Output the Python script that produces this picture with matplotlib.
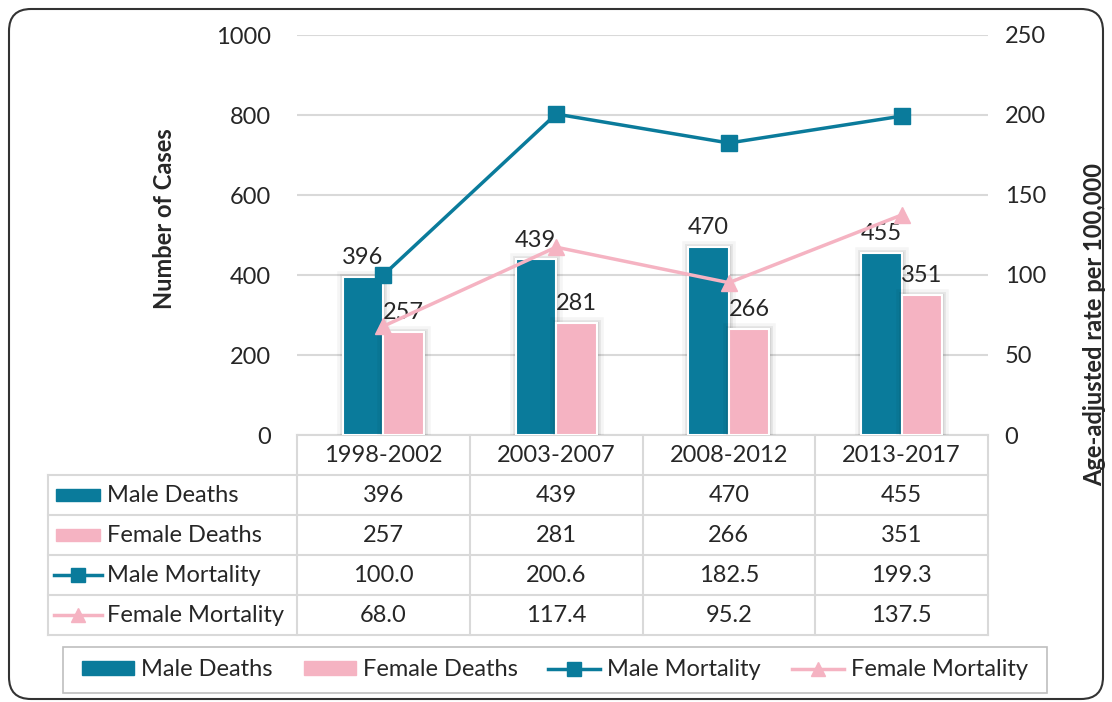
import numpy as np
import matplotlib.pyplot as plt
import matplotlib.patheffects as pe
from matplotlib.patches import Rectangle, FancyBboxPatch
from matplotlib.lines import Line2D

periods = ["1998-2002", "2003-2007", "2008-2012", "2013-2017"]
male_deaths = [396, 439, 470, 455]
female_deaths = [257, 281, 266, 351]
male_mort = [100.0, 200.6, 182.5, 199.3]
female_mort = [68.0, 117.4, 95.2, 137.5]
series_names = ["Male Deaths", "Female Deaths", "Male Mortality", "Female Mortality"]

TEAL = "#0A7B9B"
PINK = "#F5B3C2"
GRID = "#D9D9D9"
TXT = "#262626"
FS = 17

plt.rcParams['font.family'] = ['Lato', 'DejaVu Sans']

W, H = 1112, 702
fig = plt.figure(figsize=(W / 100, H / 100), dpi=100)

# overlay in pixel coords for frame / table / legend
ov = fig.add_axes([0, 0, 1, 1], zorder=0)
ov.set_xlim(0, W)
ov.set_ylim(H, 0)
ov.axis("off")
ov.add_patch(FancyBboxPatch((9, 9), W - 18, H - 12, boxstyle="round,pad=0,rounding_size=22",
                            fc="white", ec="#333333", lw=1.5))

# main plot area
L, R, T, B = 297, 988, 35, 435
ax = fig.add_axes([L / W, 1 - B / H, (R - L) / W, (B - T) / H], zorder=2)
ax.patch.set_visible(False)
x = np.arange(len(periods))
bw = 0.235
glow = [pe.Stroke(linewidth=9, foreground="black", alpha=0.04),
        pe.Stroke(linewidth=5, foreground="black", alpha=0.06),
        pe.Stroke(linewidth=2.5, foreground="black", alpha=0.08),
        pe.Normal()]
b1 = ax.bar(x - bw / 2, male_deaths, bw, color=TEAL, edgecolor="white", lw=1.5, zorder=3)
b2 = ax.bar(x + bw / 2, female_deaths, bw, color=PINK, edgecolor="white", lw=1.5, zorder=3)
for p in list(b1) + list(b2):
    p.set_path_effects(glow)
for xi, v in zip(x, male_deaths):
    ax.text(xi - bw / 2, v + 22, str(v), ha="center", va="bottom", fontsize=FS, color=TXT, zorder=5)
for xi, v in zip(x, female_deaths):
    ax.text(xi + bw / 2, v + 22, str(v), ha="center", va="bottom", fontsize=FS, color=TXT, zorder=5)
ax.set_xlim(-0.5, len(periods) - 0.5)
ax.set_ylim(0, 1000)
ax.set_yticks(range(0, 1001, 200))
ax.yaxis.grid(True, color=GRID, lw=1.5)
ax.set_axisbelow(True)
ax.set_xticks([])
for s in ax.spines.values():
    s.set_visible(False)
ax.tick_params(axis="y", length=0, labelsize=FS, labelcolor=TXT, pad=19)
ax.set_ylabel("Number of Cases", fontsize=FS, fontweight="bold", color=TXT)
ax.yaxis.set_label_coords(-0.175, 0.54)

ax2 = ax.twinx()
ax2.plot(x, male_mort, color=TEAL, lw=2.5, marker="s", ms=11, zorder=4)
ax2.plot(x, female_mort, color=PINK, lw=2.5, marker="^", ms=11, zorder=4)
ax2.set_ylim(0, 250)
ax2.set_yticks(range(0, 251, 50))
for s in ax2.spines.values():
    s.set_visible(False)
ax2.tick_params(axis="y", length=0, labelsize=FS, labelcolor=TXT, pad=12)
ax2.set_ylabel("Age-adjusted rate per 100,000", fontsize=FS, fontweight="bold", color=TXT)
ax2.yaxis.set_label_coords(1.138, 0.275)

# data table
cols = np.linspace(L, R, len(periods) + 1)
row_h = 40
tl = 48
rows_y = [B + row_h * (i + 1) for i in range(5)]
ov.plot([L, R], [B, B], color=GRID, lw=1.5)
for yy in rows_y:
    ov.plot([tl, R], [yy, yy], color=GRID, lw=1.5)
for cx in cols:
    ov.plot([cx, cx], [B, rows_y[-1]], color=GRID, lw=1.5)
ov.plot([tl, tl], [rows_y[0], rows_y[-1]], color=GRID, lw=1.5)
for i, p in enumerate(periods):
    ov.text((cols[i] + cols[i + 1]) / 2, B + row_h / 2, p, ha="center", va="center", fontsize=FS, color=TXT)
table_vals = [[str(v) for v in male_deaths], [str(v) for v in female_deaths],
              [f"{v:.1f}" for v in male_mort], [f"{v:.1f}" for v in female_mort]]
for r, vals in enumerate(table_vals):
    cy = rows_y[r] + row_h / 2
    for i, v in enumerate(vals):
        ov.text((cols[i] + cols[i + 1]) / 2, cy, v, ha="center", va="center", fontsize=FS, color=TXT)
    ov.text(107, cy, series_names[r], ha="left", va="center", fontsize=FS, color=TXT)
# keys in table
ov.add_patch(Rectangle((56, rows_y[0] + 14), 44, 12, color=TEAL))
ov.add_patch(Rectangle((56, rows_y[1] + 14), 44, 12, color=PINK))
ov.plot([54, 102], [rows_y[2] + 20] * 2, color=TEAL, lw=2.5)
ov.plot([78], [rows_y[2] + 20], marker="s", ms=10, color=TEAL)
ov.plot([54, 102], [rows_y[3] + 20] * 2, color=PINK, lw=2.5)
ov.plot([78], [rows_y[3] + 20], marker="^", ms=10, color=PINK)

# legend box + legend
ov.add_patch(Rectangle((63, 647), 984, 46, fc="none", ec="#BFBFBF", lw=1.2))
handles = [Rectangle((0, 0), 1, 1, color=TEAL), Rectangle((0, 0), 1, 1, color=PINK),
           Line2D([], [], color=TEAL, lw=2.5, marker="s", ms=10),
           Line2D([], [], color=PINK, lw=2.5, marker="^", ms=10)]
leg = fig.legend(handles, series_names, ncol=4, loc="center",
                 bbox_to_anchor=(555 / W, 1 - 670 / H), fontsize=FS, frameon=False,
                 handlelength=2.2, handleheight=0.55, handletextpad=0.3, columnspacing=1.3)
for t in leg.get_texts():
    t.set_color(TXT)

fig.savefig("out.png", dpi=100)
